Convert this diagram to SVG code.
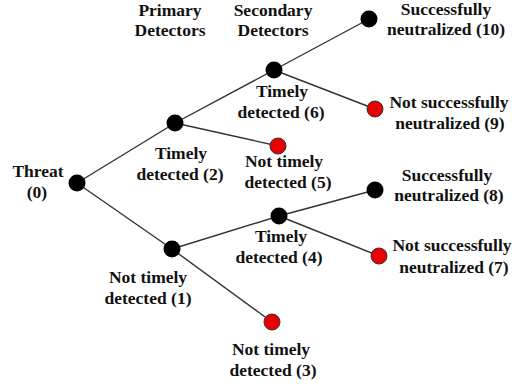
<svg xmlns="http://www.w3.org/2000/svg" width="512" height="386" viewBox="0 0 512 386">
<style>
text{font-family:"Liberation Serif","Times New Roman",serif;font-weight:700;font-size:17.5px;fill:#111;text-anchor:middle}
.e{stroke:#333;stroke-width:1.4;fill:none}
.b{fill:#000}
.r{fill:#e80000;stroke:#333;stroke-width:1}
</style>
<rect width="512" height="386" fill="#fff"/>
<g id="connectors">
<line class="e" x1="77" y1="183" x2="175" y2="123"/>
<line class="e" x1="77" y1="183" x2="172" y2="249"/>
<line class="e" x1="175" y1="123" x2="274" y2="70"/>
<line class="e" x1="175" y1="123" x2="278" y2="146"/>
<line class="e" x1="274" y1="70" x2="369" y2="19"/>
<line class="e" x1="274" y1="70" x2="375" y2="109"/>
<line class="e" x1="172" y1="249" x2="279" y2="216"/>
<line class="e" x1="172" y1="249" x2="272" y2="322"/>
<line class="e" x1="279" y1="216" x2="375" y2="190"/>
<line class="e" x1="279" y1="216" x2="379" y2="256"/>
</g>
<g id="headers">
<text x="170" y="16">Primary</text>
<text x="170" y="36">Detectors</text>
<text x="273" y="16">Secondary</text>
<text x="273" y="36">Detectors</text>
</g>
<g id="n0"><circle class="b" cx="77" cy="183" r="8.5"/><text x="38" y="177">Threat</text><text x="37" y="198">(0)</text></g>
<g id="n2"><circle class="b" cx="175" cy="123" r="8.5"/><text x="181" y="159">Timely</text><text x="180" y="180">detected (2)</text></g>
<g id="n6"><circle class="b" cx="274" cy="70" r="8.5"/><text x="282" y="97">Timely</text><text x="281" y="118">detected (6)</text></g>
<g id="n10"><circle class="b" cx="369" cy="19" r="8.5"/><text x="446" y="15">Successfully</text><text x="446" y="35">neutralized (10)</text></g>
<g id="n9"><circle class="r" cx="375" cy="109" r="8"/><text x="449" y="108">Not successfully</text><text x="450" y="129">neutralized (9)</text></g>
<g id="n5"><circle class="r" cx="278" cy="146" r="8"/><text x="284" y="167">Not timely</text><text x="288" y="188">detected (5)</text></g>
<g id="n1"><circle class="b" cx="172" cy="249" r="8.5"/><text x="148" y="283">Not timely</text><text x="148" y="304">detected (1)</text></g>
<g id="n4"><circle class="b" cx="279" cy="216" r="8.5"/><text x="281" y="242">Timely</text><text x="279" y="263">detected (4)</text></g>
<g id="n8"><circle class="b" cx="375" cy="190" r="8.5"/><text x="447" y="181">Successfully</text><text x="449" y="201">neutralized (8)</text></g>
<g id="n7"><circle class="r" cx="379" cy="256" r="8"/><text x="452" y="251">Not successfully</text><text x="454" y="273">neutralized (7)</text></g>
<g id="n3"><circle class="r" cx="272" cy="322" r="8"/><text x="271" y="355">Not timely</text><text x="273" y="376">detected (3)</text></g>
</svg>
